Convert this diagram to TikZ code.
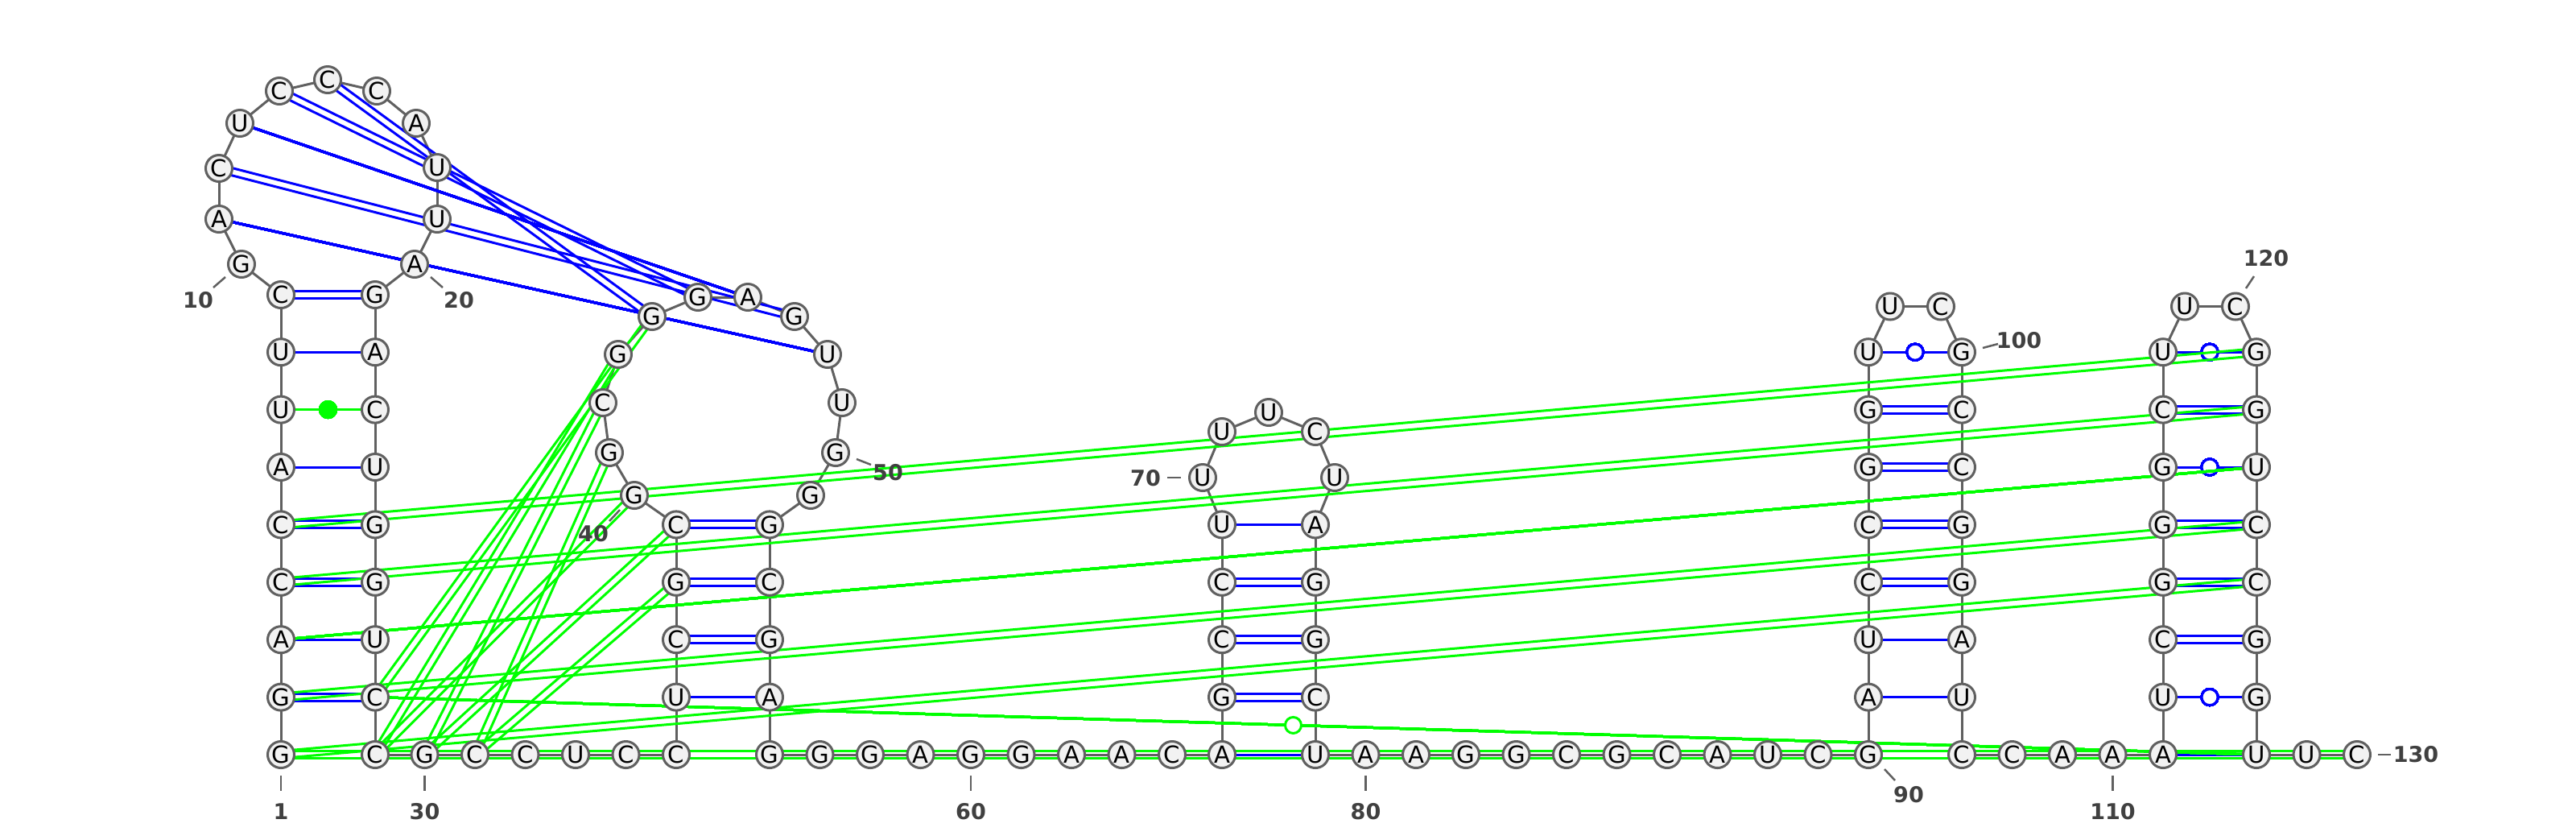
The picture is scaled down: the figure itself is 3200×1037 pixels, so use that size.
\documentclass[tikz,border=0pt]{standalone}
\usepackage{fontspec}
\setmainfont{DejaVu Sans}
\usetikzlibrary{calc}
\usetikzlibrary{backgrounds}
\definecolor{ntfill}{RGB}{242,242,242}
\definecolor{ntdraw}{RGB}{96,96,96}
\definecolor{numgray}{RGB}{64,64,64}
\definecolor{altgreen}{RGB}{0,255,0}
\tikzset{
  nt/.style={circle,draw=ntdraw,fill=ntfill,line width=0.3mm,minimum size=3.3mm,inner sep=0pt,font=\fontsize{8.3}{9}\selectfont},
  bbline/.style={draw=ntdraw,line width=0.3mm},
  wcline/.style={draw=blue,line width=0.3mm},
  altline/.style={draw=altgreen,line width=0.3mm},
  numlab/.style={text=numgray,font=\fontsize{7.7}{9}\selectfont\bfseries,inner sep=0pt},
  ticks/.style={draw=ntdraw,line width=0.25mm},
  glyph/.style={shape=circle,line width=0.3mm,minimum size=2mm,inner sep=0pt}
}
\newcommand{\bpone}[3]{\draw[#1] (n#2.center) -- (n#3.center);}
\newcommand{\bptwo}[3]{%
  \draw[#1] ($(n#2.center)!0.45mm!90:(n#3.center)$) -- ($(n#3.center)!0.45mm!-90:(n#2.center)$);
  \draw[#1] ($(n#2.center)!0.45mm!-90:(n#3.center)$) -- ($(n#3.center)!0.45mm!90:(n#2.center)$);}

\begin{document}
\begin{tikzpicture}[x=0.1mm,y=-0.1mm]
  \useasboundingbox (0,0) rectangle (3200,1037);
  \foreach \x/\y/\b [count=\i] in {
      349/937/G, 349/865.6/G, 349/794.2/A, 349/722.8/C, 349/651.4/C,
      349/580/A, 349/508.6/U, 349/437.2/U, 349/366/C, 300/328/G,
      272/272/A, 272/209/C, 298/153/U, 347/113/C, 407/99/C,
      468/113/C, 517/153/A, 543/208/U, 543/272/U, 515/328/A,
      466/366/G, 466/437.2/A, 466/508.6/C, 466/580/U, 466/651.4/G,
      466/722.8/G, 466/794.2/U, 466/865.6/C, 466/937/C, 527.5/937/G,
      590/937/C, 652.5/937/C, 715/937/U, 777.5/937/C, 840/937/C,
      840/865.6/U, 840/794.2/C, 840/722.8/G, 840/651.4/C, 788/615/G,
      757/562/G, 749/500/C, 768/440/G, 810/393/G, 867/369/G,
      929/369/A, 987/393/G, 1028/440/U, 1046/500/U, 1038/562/G,
      1007/615/G, 956/651.4/G, 956/722.8/C, 956/794.2/G, 956/865.6/A,
      956/937/G, 1018.5/937/G, 1081/937/G, 1143.5/937/A, 1206/937/G,
      1268.5/937/G, 1331/937/A, 1393.5/937/A, 1456/937/C, 1518/937/A,
      1518/865.6/G, 1518/794.2/C, 1518/722.8/C, 1518/651.4/U, 1494/593/U,
      1518/536/U, 1576/512/U, 1634/536/C, 1658/593/U, 1634/651.4/A,
      1634/722.8/G, 1634/794.2/G, 1634/865.6/C, 1634/937/U, 1696.5/937/A,
      1759/937/A, 1821/937/G, 1883.5/937/G, 1946/937/C, 2008.5/937/G,
      2071/937/C, 2133.5/937/A, 2196/937/U, 2258.5/937/C, 2321/937/G,
      2321/865.6/A, 2321/794.2/U, 2321/722.8/C, 2321/651.4/C, 2321/580/G,
      2321/508.6/G, 2321/437.2/U, 2348/380.5/U, 2411/380.5/C, 2437/437.2/G,
      2437/508.6/C, 2437/580/C, 2437/651.4/G, 2437/722.8/G, 2437/794.2/A,
      2437/865.6/U, 2437/937/C, 2499.5/937/C, 2562/937/A, 2624.5/937/A,
      2687/937/A, 2687/865.6/U, 2687/794.2/C, 2687/722.8/G, 2687/651.4/G,
      2687/580/G, 2687/508.6/C, 2687/437.2/U, 2714/380.5/U, 2777/380.5/C,
      2803/437.2/G, 2803/508.6/G, 2803/580/U, 2803/651.4/C, 2803/722.8/C,
      2803/794.2/G, 2803/865.6/G, 2803/937/U, 2865.5/937/U, 2928/937/C}
    \node[nt] (n\i) at (\x,\y) {\b};

  \begin{scope}[on background layer]
    \foreach \i [evaluate=\i as \j using int(\i+1)] in {1,...,129}
      \draw[bbline] (n\i.center) -- (n\j.center);
    \foreach \p/\q in {2/28,4/26,5/25,9/21,12/47,14/45,15/44,37/54,38/53,39/52,
                       66/78,67/77,68/76,93/104,94/103,95/102,96/101,
                       113/126,114/125,115/124,117/122}
      \bptwo{wcline}{\p}{\q}
    \foreach \p/\q in {3/27,6/24,8/22,11/48,13/46,36/55,65/79,69/75,
                       91/106,92/105,111/128,97/100,112/127,116/123,118/121}
      \bpone{wcline}{\p}{\q}
    \foreach \p/\q in {97/100,112/127,116/123,118/121}
      \node[glyph,draw=blue,fill=white] (w\p) at ($(n\p.center)!0.5!(n\q.center)$) {};
    \foreach \p/\q in {1/125,2/124,4/122,5/121,1/130,28/44,29/43,30/42,31/41,
                       29/40,30/39,31/38}
      \bptwo{altline}{\p}{\q}
    \bpone{altline}{3}{123}
    \bpone{altline}{7}{23}
    \bpone{altline}{28}{128}
    \node[glyph,draw=altgreen,fill=altgreen] (w7) at ($(n7.center)!0.5!(n23.center)$) {};
    \node[glyph,draw=altgreen,fill=white] (w28) at ($(n28.center)!0.488!(n128.center)$) {};
  \end{scope}

  \node[numlab] (l1) at (349,1008) {1};
  \draw[ticks] (349,963) -- (349,982);
  \node[numlab] (l10) at (246,373) {10};
  \draw[ticks] (265,357) -- (280,344);
  \node[numlab] (l20) at (570,373) {20};
  \draw[ticks] (535,344) -- (550,357);
  \node[numlab] (l30) at (527.5,1008) {30};
  \draw[ticks] (527.5,963) -- (527.5,982);
  \node[numlab] (l40) at (737,663) {40};
  \draw[ticks] (757,647) -- (770,633);
  \node[numlab] (l50) at (1103,587) {50};
  \draw[ticks] (1064,570) -- (1082,577);
  \node[numlab] (l60) at (1206,1008) {60};
  \draw[ticks] (1206,963) -- (1206,982);
  \node[numlab] (l70) at (1423,594) {70};
  \draw[ticks] (1450,593) -- (1467,593);
  \node[numlab] (l80) at (1696.5,1008) {80};
  \draw[ticks] (1696.5,963) -- (1696.5,982);
  \node[numlab] (l90) at (2371,987) {90};
  \draw[ticks] (2341,955) -- (2354,969);
  \node[numlab] (l100) at (2508,423) {100};
  \draw[ticks] (2463,432) -- (2482,427);
  \node[numlab] (l110) at (2624.5,1008) {110};
  \draw[ticks] (2624.5,963) -- (2624.5,982);
  \node[numlab] (l120) at (2815,321) {120};
  \draw[ticks] (2790,358) -- (2800,343);
  \node[numlab] (l130) at (3001,937) {130};
  \draw[ticks] (2954,937) -- (2970,937);
\end{tikzpicture}
\end{document}
